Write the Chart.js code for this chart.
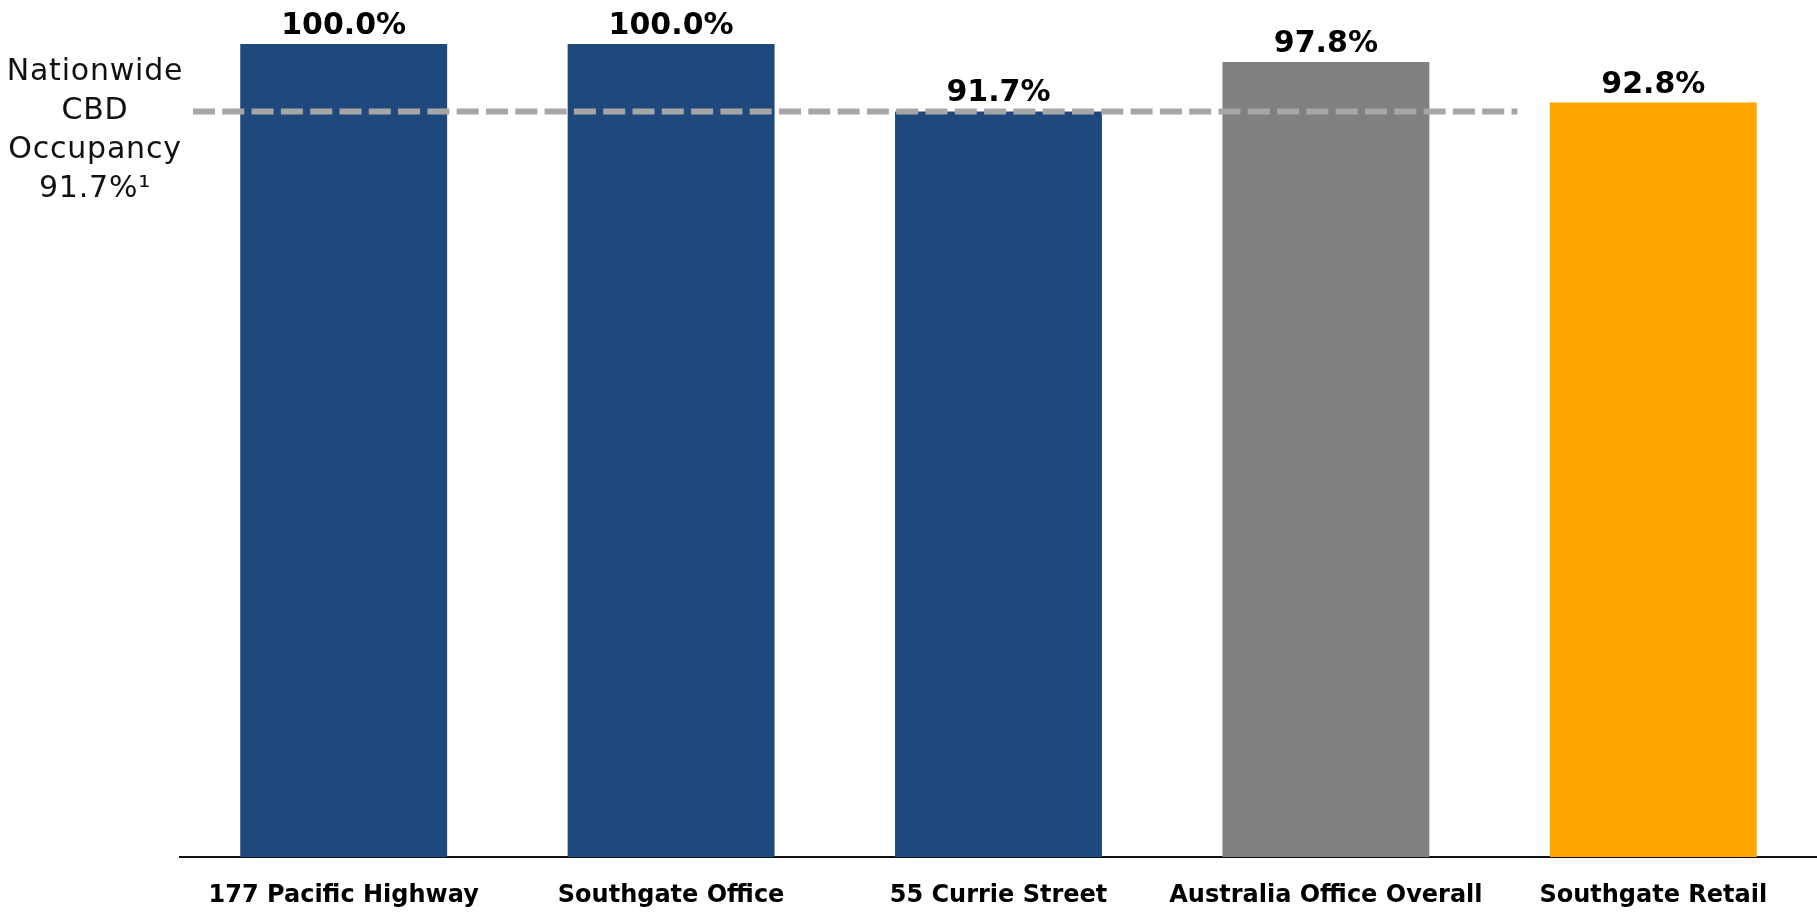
<!DOCTYPE html>
<html>
<head>
<meta charset="utf-8">
<script src="https://cdn.jsdelivr.net/npm/chart.js@4/dist/chart.umd.min.js"></script>
<style>
  html, body { margin: 0; padding: 0; background: #fff; }
  #wrap { width: 1817px; height: 913px; }
</style>
</head>
<body>
<div id="wrap"><canvas id="occChart" width="1817" height="913"></canvas></div>
<script>
const categories = ["177 Pacific Highway", "Southgate Office", "55 Currie Street", "Australia Office Overall", "Southgate Retail"];
const occupancy = [100.0, 100.0, 91.7, 97.8, 92.8];
const barColors = ["#1F497D", "#1F497D", "#1F497D", "#808080", "#FFA500"];
const benchmark = 91.7;
const benchmarkLines = ["Nationwide", "CBD", "Occupancy", "91.7%\u00B9"];

const el = (id) => document.getElementById(id);

// dashed benchmark line + its label on the left
const benchmarkPlugin = {
  id: "benchmark",
  afterDatasetsDraw(chart) {
    const { ctx, chartArea, scales: { x, y } } = chart;
    const yPos = y.getPixelForValue(benchmark);
    const step = x.getPixelForValue(1) - x.getPixelForValue(0);
    ctx.save();
    ctx.strokeStyle = "#A6A6A6";
    ctx.lineWidth = 6;
    ctx.setLineDash([22, 7.3]);
    ctx.beginPath();
    ctx.moveTo(chartArea.left + 13, yPos);
    ctx.lineTo(x.getPixelForValue(3) + step * 0.585, yPos);
    ctx.stroke();
    ctx.setLineDash([]);

    ctx.fillStyle = "#111";
    ctx.font = "30px 'DejaVu Sans'";
    ctx.letterSpacing = "0.8px";
    ctx.textAlign = "center";
    ctx.textBaseline = "alphabetic";
    benchmarkLines.forEach((t, i) => {
      ctx.fillText(t, chartArea.left - 85, chartArea.top + 36 + i * 39);
    });
    ctx.restore();
  }
};

const valueLabels = {
  id: "valueLabels",
  afterDatasetsDraw(chart) {
    const { ctx } = chart;
    const meta = chart.getDatasetMeta(0);
    ctx.save();
    ctx.fillStyle = "#000";
    ctx.font = "bold 30px 'DejaVu Sans'";
    ctx.textAlign = "center";
    ctx.textBaseline = "alphabetic";
    meta.data.forEach((bar, i) => {
      ctx.fillText(occupancy[i].toFixed(1) + "%", bar.x, bar.y - 10);
    });
    ctx.restore();
  }
};

new Chart(el("occChart").getContext("2d"), {
  type: "bar",
  data: {
    labels: categories,
    datasets: [{
      data: occupancy,
      backgroundColor: barColors,
      borderWidth: 0,
      categoryPercentage: 1,
      barPercentage: 0.632
    }]
  },
  options: {
    responsive: false,
    animation: false,
    layout: { padding: { left: 180, right: 0, top: 44, bottom: 0 } },
    plugins: { legend: { display: false }, tooltip: { enabled: false } },
    scales: {
      x: {
        grid: { display: false, drawTicks: false },
        border: { display: true, color: "#111", width: 2 },
        ticks: {
          color: "#000",
          padding: 24,
          font: { family: "'DejaVu Sans'", size: 24, weight: "bold" }
        },
        afterFit(scale) { scale.height = 56; }
      },
      y: { display: false, min: 0, max: 100 }
    }
  },
  plugins: [benchmarkPlugin, valueLabels]
});
</script>
</body>
</html>
